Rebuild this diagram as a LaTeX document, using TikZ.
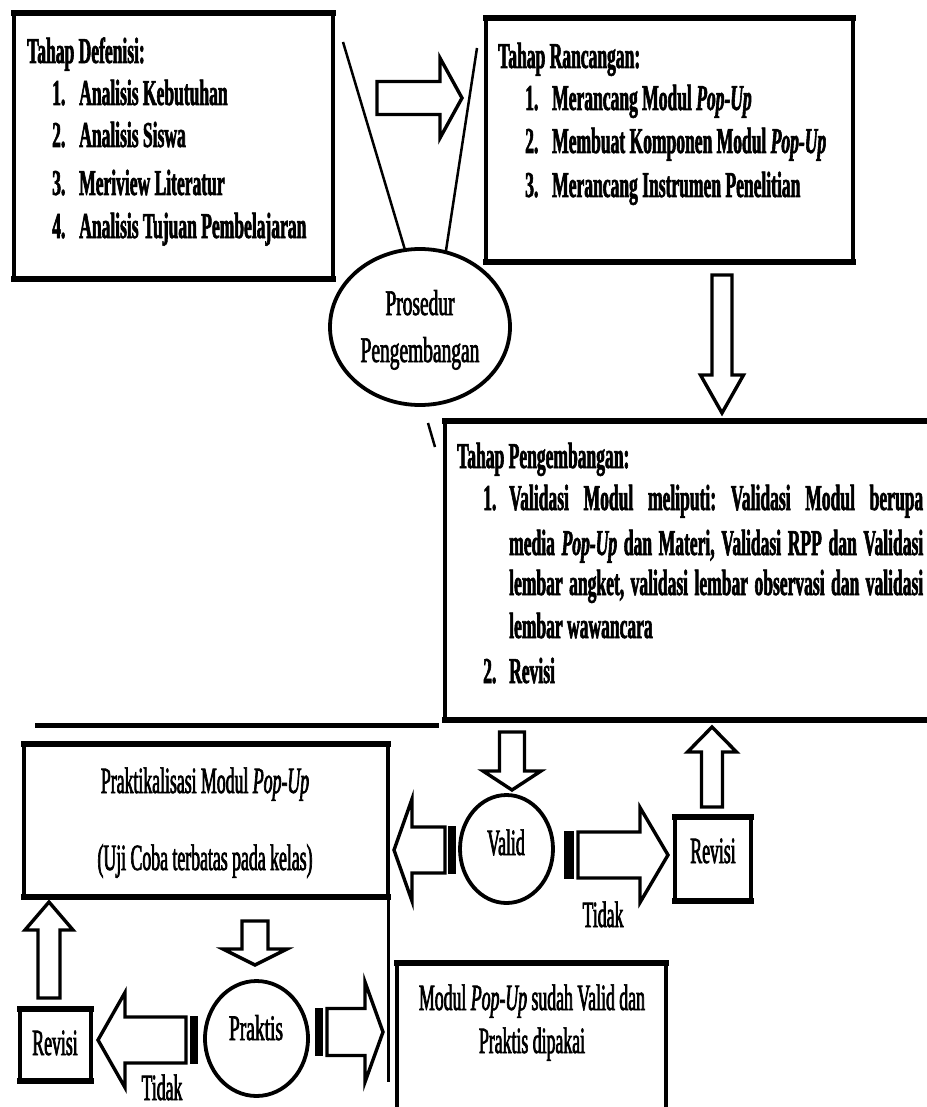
\documentclass[tikz,border=0pt]{standalone}
\usepackage{fontspec}
\setmainfont{Liberation Serif}[FakeStretch=0.48,
  BoldFeatures={FakeBold=1.6}, BoldItalicFeatures={FakeBold=1.6}]
\newfontfamily\regfont{Liberation Serif}[FakeStretch=0.48, FakeBold=1.8]
\newfontfamily\widefont{Liberation Serif}[FakeStretch=0.54, FakeBold=1.8]
\usetikzlibrary{calc,shapes.geometric}
\tikzset{
  box/.style={draw, line width=4pt, fill=white, inner sep=0pt, outer sep=0pt},
  hedge/.style={line width=6pt, line cap=rect},
  oval/.style={ellipse, draw, line width=3.8pt, fill=white, inner sep=0pt, outer sep=0pt},
  barrow/.style={draw, line width=3.4pt, fill=white, line join=miter},
  thinline/.style={line width=2.5pt},
  tx/.style={inner sep=0pt, font=\regfont\fontsize{37}{44}\selectfont},
  tw/.style={inner sep=0pt, font=\widefont\fontsize{36}{44}\selectfont},
  tb/.style={inner sep=0pt, font=\fontsize{36.5}{44}\selectfont\bfseries},
}
\newcommand\BArrow[5]{%
  \path ($(#2)!#5pt!(#1)$) coordinate (bah);
  \draw[barrow] ($(#1)!#3pt!90:(#2)$) -- ($(bah)!#3pt!90:(#2)$) -- ($(bah)!#4pt!90:(#2)$) -- (#2)
     -- ($(bah)!#4pt!-90:(#2)$) -- ($(bah)!#3pt!-90:(#2)$) -- ($(#1)!#3pt!-90:(#2)$) -- cycle;}
\newcommand\HEdges[1]{%
  \draw[hedge] (#1.north west) -- (#1.north east);
  \draw[hedge] (#1.south west) -- (#1.south east);}
\begin{document}
\frenchspacing
\begin{tikzpicture}[x=1pt,y=-1pt]
\fill[white] (0,0) rectangle (926,1107);
\useasboundingbox (0,0) rectangle (926,1107);

% boxes
\node[box, minimum width=319pt, minimum height=266pt] (def) at (173.5,146) {};
\HEdges{def}
\node[box, minimum width=367pt, minimum height=244pt] (ran) at (669.5,140) {};
\HEdges{ran}
\node[box, minimum width=490pt, minimum height=299pt] (peng) at (690,570.5) {};
\HEdges{peng}
\node[box, minimum width=364pt, minimum height=153pt] (prak) at (206,820.5) {};
\HEdges{prak}
\node[box, minimum width=76pt, minimum height=84pt] (revA) at (713,859) {};
\HEdges{revA}
\node[box, minimum width=71pt, minimum height=72pt] (revB) at (55.5,1045) {};
\HEdges{revB}
\node[box, minimum width=269pt, minimum height=149pt] (modul) at (531.5,1037.5) {};
\HEdges{modul}

% ellipse with lines
\coordinate (l1) at (343,42);
\coordinate (l2) at (477,48);
\node[oval, minimum width=180pt, minimum height=156pt] (pro) at (420,327) {};
\draw[thinline] (l1) -- (pro.101);
\draw[thinline] (l2) -- (pro.71);
\coordinate (s1) at (428,423);
\coordinate (s2) at (435,447);
\draw[thinline] (s1) -- (s2);

% separator lines
\coordinate (h1) at (35,725);
\coordinate (h2) at (439,725);
\draw[line width=5pt] (h1) -- (h2);
\coordinate (v2) at (388,1082);
\draw[line width=3pt] (prak.south east) -- (v2);

% circles
\node[oval, minimum width=93pt, minimum height=108pt] (valid) at (506.5,849) {};
\node[oval, minimum width=103pt, minimum height=115pt] (praktis) at (256.5,1038.5) {};

% block arrows
\coordinate (a1s) at (377,98);  \coordinate (a1e) at (462,98);
\BArrow{a1s}{a1e}{16.5}{40}{22}
\coordinate (a2s) at (722,275); \coordinate (a2e) at (722,413);
\BArrow{a2s}{a2e}{10}{21.5}{38}
\coordinate (a3s) at (512,732); \coordinate (a3e) at (512,790);
\BArrow{a3s}{a3e}{12.5}{29}{19}
\coordinate (a4s) at (712,807); \coordinate (a4e) at (712,727);
\BArrow{a4s}{a4e}{10.5}{24.5}{25}
\coordinate (a5s) at (445,850); \coordinate (a5e) at (394,850);
\BArrow{a5s}{a5e}{23}{51}{18}
\coordinate (a6s) at (578,855); \coordinate (a6e) at (668,855);
\BArrow{a6s}{a6e}{23}{47.5}{28}
\coordinate (a7s) at (49,998); \coordinate (a7e) at (49,902);
\BArrow{a7s}{a7e}{11}{24}{28}
\coordinate (a8s) at (255,921); \coordinate (a8e) at (255,965);
\BArrow{a8s}{a8e}{13}{32}{16}
\coordinate (a9s) at (186,1040); \coordinate (a9e) at (98,1040);
\BArrow{a9s}{a9e}{23}{47.5}{27}
\coordinate (a10s) at (327,1032); \coordinate (a10e) at (383,1032);
\BArrow{a10s}{a10e}{23.5}{50}{18}

% stripes at arrow tails
\fill (448,826) rectangle (456,874);
\fill (564,831) rectangle (574,879);
\fill (190,1016) rectangle (198,1064);
\fill (315,1008) rectangle (323,1056);

% texts: Tahap Defenisi
\node[tb, anchor=base west] (tDef) at (27,63) {Tahap Defenisi:};
\node[tb, anchor=base west] (tDef1) at (52,105) {\makebox[27pt][l]{1.}Analisis Kebutuhan};
\node[tb, anchor=base west] (tDef2) at (52,147) {\makebox[27pt][l]{2.}Analisis Siswa};
\node[tb, anchor=base west] (tDef3) at (52,195) {\makebox[27pt][l]{3.}Meriview Literatur};
\node[tb, anchor=base west] (tDef4) at (52,238) {\makebox[27pt][l]{4.}Analisis Tujuan Pembelajaran};

% Tahap Rancangan
\node[tb, anchor=base west] (tRan) at (498,68) {Tahap Rancangan:};
\node[tb, anchor=base west] (tRan1) at (525,110) {\makebox[27pt][l]{1.}Merancang Modul \textit{Pop-Up}};
\node[tb, anchor=base west] (tRan2) at (525,153) {\makebox[27pt][l]{2.}Membuat Komponen Modul \textit{Pop-Up}};
\node[tb, anchor=base west] (tRan3) at (525,197) {\makebox[27pt][l]{3.}Merancang Instrumen Penelitian};

% Tahap Pengembangan
\node[tb, anchor=base west] (tPen) at (457,468) {Tahap Pengembangan:};
\node[tb, anchor=base west] (tPen1) at (483,510) {\makebox[26pt][l]{1.}\makebox[414pt][s]{Validasi Modul meliputi: Validasi Modul berupa}};
\node[tb, anchor=base west] (tPen2) at (509,555) {\makebox[414pt][s]{media \textit{Pop-Up} dan Materi, Validasi RPP dan Validasi}};
\node[tb, anchor=base west] (tPen3) at (509,595) {\makebox[414pt][s]{lembar angket, validasi lembar observasi dan validasi}};
\node[tb, anchor=base west] (tPen4) at (509,638) {lembar wawancara};
\node[tb, anchor=base west] (tPen5) at (483,683) {\makebox[26pt][l]{2.}Revisi};

% ellipse text
\node[tw, anchor=base] (tPro1) at (420,315) {Prosedur};
\node[tw, anchor=base] (tPro2) at (420,362) {Pengembangan};

% Praktikalisasi
\node[tx, anchor=base] (tPrak1) at (205,793) {Praktikalisasi Modul \textit{Pop-Up}};
\node[tx, anchor=base] (tPrak2) at (205,870) {(Uji Coba terbatas pada kelas)};

% small labels
\node[tx, anchor=base] (tValid) at (506,855) {Valid};
\node[tx, anchor=base] (tRevA) at (713,863) {Revisi};
\node[tx, anchor=base] (tTidA) at (603,927) {Tidak};
\node[tx, anchor=base] (tRevB) at (55,1055) {Revisi};
\node[tw, anchor=base] (tPraktis) at (256,1040) {Praktis};
\node[tx, anchor=base] (tTidB) at (162,1100) {Tidak};

% Modul box text
\node[tx, anchor=base] (tMod1) at (532,1010) {Modul \textit{Pop-Up} sudah Valid dan};
\node[tx, anchor=base] (tMod2) at (532,1053) {Praktis dipakai};
\end{tikzpicture}
\end{document}
